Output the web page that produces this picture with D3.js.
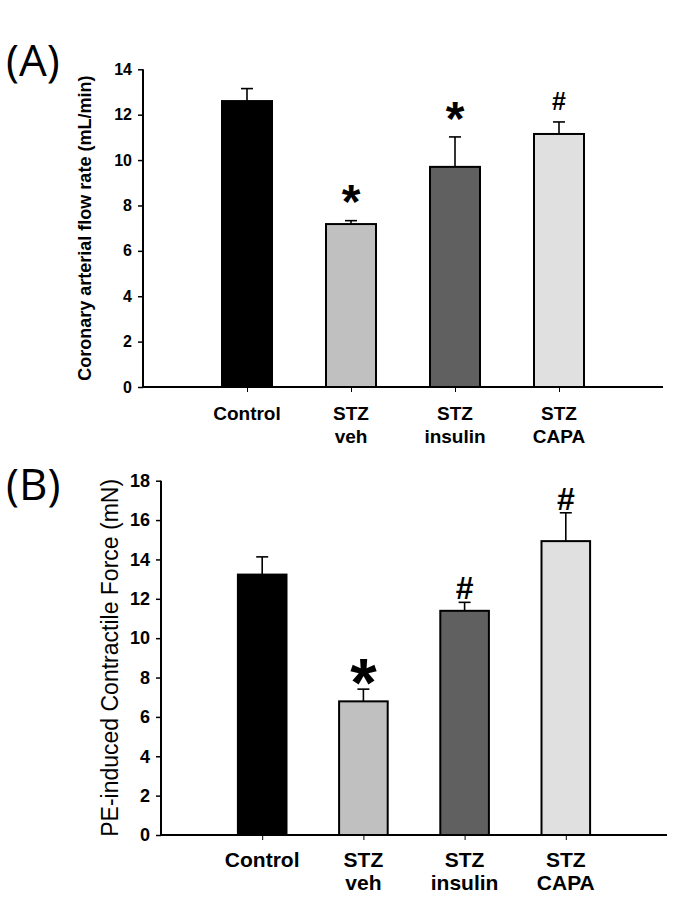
<!DOCTYPE html>
<html>
<head>
<meta charset="utf-8">
<script src="https://cdn.jsdelivr.net/npm/d3@7"></script>
<style>
  html, body { margin: 0; padding: 0; background: #fff; }
  svg { display: block; }
  text { font-family: "Liberation Sans", Arial, sans-serif; fill: #000; }
</style>
</head>
<body>
<svg id="chart" width="685" height="913"></svg>
<script>
// ---- Data ----
const categories = ["Control", "STZ\nveh", "STZ\ninsulin", "STZ\nCAPA"];
const barColors = ["#000000", "#c0c0c0", "#606060", "#e0e0e0"];

// Panel A: Coronary arterial flow rate (mL/min)
const flowMean = [12.6, 7.18, 9.7, 11.15];
const flowErr  = [0.55, 0.15, 1.32, 0.53];
const flowMarks = ["", "*", "*", "#"];
const flowTicks = [0, 2, 4, 6, 8, 10, 12, 14];

// Panel B: PE-induced contractile force (mN)
const forceMean = [13.23, 6.79, 11.39, 14.93];
const forceErr  = [0.9, 0.62, 0.43, 1.44];
const forceMarks = ["", "*", "#", "#"];
const forceTicks = [0, 2, 4, 6, 8, 10, 12, 14, 16, 18];

const svg = d3.select("#chart");

function panel(opt) {
  const g = svg.append("g");
  const x = d3.scalePoint().domain(categories).range([opt.x0, opt.x1]).padding(1);
  const y = d3.scaleLinear().domain([0, opt.max]).range([opt.y0, opt.y1]);
  const bw = x.step() * 0.5;
  const data = categories.map((c, i) => ({c, v: opt.mean[i], e: opt.err[i], col: barColors[i], m: opt.marks[i]}));

  // error bars (upper only)
  g.selectAll(".err").data(data).join("g").each(function(d) {
    const s = d3.select(this);
    const cx = x(d.c);
    s.append("line").attr("x1", cx).attr("x2", cx).attr("y1", y(d.v)).attr("y2", y(d.v + d.e))
      .attr("stroke", "#000").attr("stroke-width", 1.6);
    s.append("line").attr("x1", cx - 6).attr("x2", cx + 6).attr("y1", y(d.v + d.e)).attr("y2", y(d.v + d.e))
      .attr("stroke", "#000").attr("stroke-width", 1.6);
  });

  // bars
  g.selectAll(".bar").data(data).join("rect")
    .attr("x", d => x(d.c) - bw / 2 + 1)
    .attr("width", bw - 2)
    .attr("y", d => y(d.v))
    .attr("height", d => y(0) - y(d.v))
    .attr("fill", d => d.col)
    .attr("stroke", "#000").attr("stroke-width", 2);

  // y axis
  const ya = d3.axisLeft(y).tickValues(opt.ticks).tickSize(5).tickPadding(6).tickFormat(d3.format("d"));
  const yg = g.append("g").attr("transform", `translate(${opt.x0},0)`).call(ya);
  yg.attr("font-family", null).attr("font-size", null);
  yg.select(".domain").attr("stroke-width", 2).attr("d", `M0,${opt.y1}V${opt.y0}`);
  yg.selectAll(".tick line").attr("stroke-width", 1.5);
  yg.selectAll(".tick text").style("font-size", opt.tickSize + "px").attr("font-weight", "bold");

  // x axis
  const xa = d3.axisBottom(x).tickSize(5).tickFormat("");
  const xg = g.append("g").attr("transform", `translate(0,${opt.y0})`).call(xa);
  xg.select(".domain").attr("stroke-width", 2).attr("d", `M${opt.x0},0H${opt.x1}`);
  xg.selectAll(".tick line").attr("stroke-width", 1);

  // category labels
  data.forEach(d => {
    const lines = d.c.split("\n");
    const t = g.append("text").attr("text-anchor", "middle")
      .attr("font-size", opt.catSize).attr("font-weight", "bold");
    lines.forEach((ln, k) => {
      t.append("tspan").attr("x", x(d.c)).attr("y", opt.catY + k * opt.catLH).text(ln);
    });
  });

  // significance marks
  data.forEach(d => {
    if (!d.m) return;
    const top = y(d.v + d.e);
    if (d.m === "*") {
      g.append("text").attr("text-anchor", "middle").attr("font-weight", "bold")
        .attr("font-size", opt.starSize)
        .attr("x", x(d.c)).attr("y", top - opt.starGap + opt.starSize * 0.555)
        .text("*");
    } else {
      g.append("text").attr("text-anchor", "middle").attr("font-weight", "bold")
        .attr("font-size", opt.hashSize)
        .attr("x", x(d.c)).attr("y", top - opt.hashGap)
        .text("#");
    }
  });

  // y title
  g.append("text")
    .attr("transform", `translate(${opt.titleX},${(opt.y0 + opt.y1) / 2}) rotate(-90)`)
    .attr("text-anchor", "middle")
    .attr("font-size", opt.titleSize)
    .attr("font-weight", opt.titleWeight)
    .text(opt.title);

  // panel letter
  g.append("text").attr("x", 6).attr("y", opt.letterY)
    .attr("font-size", 44)
    .style("font-family", "'Open Sans', 'Noto Sans', sans-serif")
    .text(opt.letter);
}

panel({
  letter: "(A)", letterY: 76,
  x0: 143, x1: 663, y0: 387, y1: 69.3, max: 14,
  mean: flowMean, err: flowErr, marks: flowMarks, ticks: flowTicks,
  tickSize: 16, catSize: 19, catY: 420, catLH: 23,
  starSize: 48, starGap: 29, hashSize: 25, hashGap: 12,
  title: "Coronary arterial flow rate (mL/min)", titleX: 91, titleSize: 18, titleWeight: "bold"
});

panel({
  letter: "(B)", letterY: 500,
  x0: 161, x1: 667, y0: 835, y1: 480.7, max: 18,
  mean: forceMean, err: forceErr, marks: forceMarks, ticks: forceTicks,
  tickSize: 18, catSize: 21, catY: 867, catLH: 23,
  starSize: 68, starGap: 21, hashSize: 32, hashGap: 3,
  title: "PE-induced Contractile Force (mN)", titleX: 118, titleSize: 23, titleWeight: "normal"
});
</script>
</body>
</html>
